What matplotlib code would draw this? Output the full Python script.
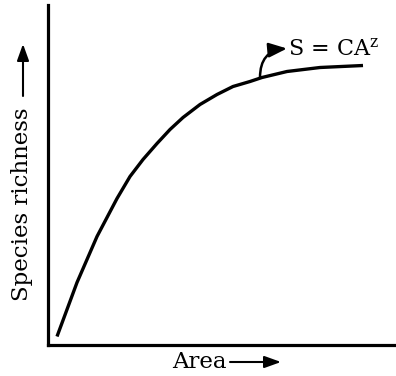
import matplotlib.pyplot as plt
from matplotlib.patches import FancyArrowPatch

plt.rcParams['font.family'] = 'DejaVu Serif'
plt.rcParams['mathtext.fontset'] = 'dejavuserif'

# species-area curve, read as points along the drawn line
area = [9, 19, 29, 39, 49, 59, 69, 82, 95, 109, 122, 135, 152, 169, 185, 202, 214, 239, 272, 315]
richness = [8, 35, 62, 85, 108, 127, 146, 168, 185, 201, 215, 227, 240, 250, 258, 263, 267, 273, 277, 279]

W, H = 396, 376
fig = plt.figure(figsize=(W / 100, H / 100), dpi=100)
ax = fig.add_axes([48 / W, 1 - 344.5 / H, 1 - 48 / W, (344.5 - 5) / H])

ax.plot(area, richness, color='black', lw=2.4, solid_capstyle='butt',
        solid_joinstyle='round')
ax.set_xlim(0, W - 48)
ax.set_ylim(0, 339.5)

for side in ['top', 'right']:
    ax.spines[side].set_visible(False)
for side in ['left', 'bottom']:
    ax.spines[side].set_linewidth(2.3)
ax.set_xticks([])
ax.set_yticks([])

# curved pointer from the curve to the equation
head = dict(arrowstyle='-|>,head_length=0.55,head_width=0.22', color='black',
            lw=1.8, mutation_scale=20, shrinkA=0, shrinkB=0)
ax.annotate('', xy=(239, 296), xytext=(212, 267),
            arrowprops=dict(head, connectionstyle='angle3,angleA=90,angleB=5'))
ax.text(240, 295, r'S = CA$^{\mathrm{z}}$', fontsize=16, ha='left', va='center')

# axis labels with arrows
fig.text(172 / W, 1 - 362 / H, 'Area', fontsize=16.5, ha='left', va='center')
fig.text(22 / W, 1 - 204 / H, 'Species richness', fontsize=16.5, rotation=90,
         ha='center', va='center')
for start, end in [((230, 362), (281, 362)), ((23, 96), (23, 44))]:
    fig.add_artist(FancyArrowPatch(
        (start[0] / W, 1 - start[1] / H), (end[0] / W, 1 - end[1] / H),
        transform=fig.transFigure,
        arrowstyle='-|>,head_length=0.5,head_width=0.18', mutation_scale=20,
        color='black', lw=1.5, shrinkA=0, shrinkB=0))

fig.savefig('out.png', dpi=100)
